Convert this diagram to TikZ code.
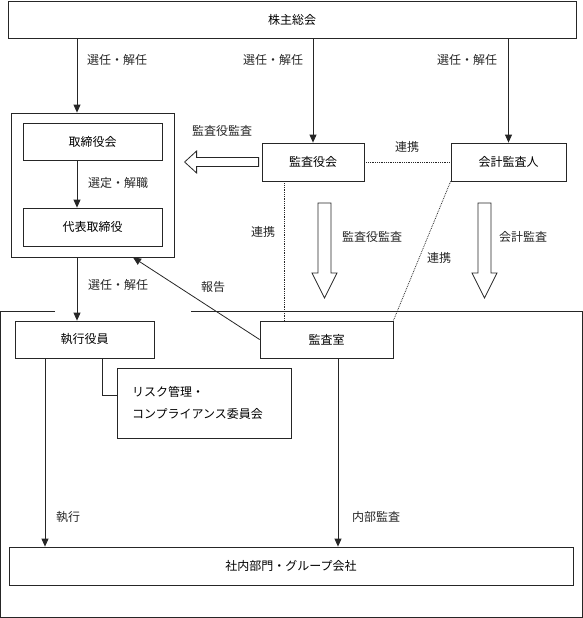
\documentclass[tikz,border=0pt]{standalone}
\usepackage{fontspec}
\setmainfont{Noto Sans CJK JP}
\usetikzlibrary{arrows.meta}

\begin{document}
\begin{tikzpicture}[x=1pt, y=-1pt,
		box/.style={draw=black!85, line width=0.8pt, inner sep=0pt, font=\fontsize{12}{14}\selectfont},
		lbl/.style={inner sep=0pt, font=\fontsize{12}{14}\selectfont, text=black!85},
		arr/.style={draw=black!85, line width=0.8pt, -{Triangle[width=7pt,length=8pt]}},
		link/.style={draw=black!85, line width=0.8pt, densely dotted},
		hollow/.style={draw=black!85, line width=0.8pt, fill=white, line join=miter}]
	\useasboundingbox (0,0) rectangle (583,618);
	
	\coordinate (lx) at (77,0);
	\coordinate (dx) at (284,0);
	\coordinate (rx) at (102,0);
	\coordinate (ex) at (45,0);
	\coordinate (ix) at (338,0);
	
	\node[box, minimum width=568pt, minimum height=37pt] (soukai) at (292,19.5) {株主総会};
	\node[box, minimum width=163pt, minimum height=144pt] (board) at (92.5,185) {};
	\node[box, minimum width=139pt, minimum height=37pt] (torishimari) at (92.5,141.5) {取締役会};
	\node[box, minimum width=139pt, minimum height=38pt] (daihyo) at (92.5,227) {代表取締役};
	\node[box, minimum width=102pt, minimum height=38pt] (kansayaku) at (313,162) {監査役会};
	\node[box, minimum width=115pt, minimum height=38pt] (kaikei) at (508.5,162) {会計監査人};
	\node[box, minimum width=139pt, minimum height=37pt] (shikko) at (84.5,339.5) {執行役員};
	\node[box, minimum width=133pt, minimum height=37pt] (kansashitsu) at (326.5,339.5) {監査室};
	\node[box, minimum height=70pt, text width=144pt, inner xsep=15pt, align=left,
		font=\fontsize{12}{22}\selectfont] (risk) at (204,403) {リスク管理・\\コンプライアンス委員会};
	\node[box, minimum width=564pt, minimum height=38pt] (shanai) at (291,566) {社内部門・グループ会社};
	
	\draw[draw=black!85, line width=0.8pt] (55,311) -- (0.5,311) -- (0.5,617.5) -- (582.5,617.5) -- (582.5,311) -- (191,311);
	
	\draw[arr] (soukai.south -| lx) -- (board.north -| lx);
	\draw[arr] (soukai.south -| kansayaku.north) -- (kansayaku.north);
	\draw[arr] (soukai.south -| kaikei.north) -- (kaikei.north);
	\draw[arr] (torishimari.south -| lx) -- (daihyo.north -| lx);
	\draw[arr] (board.south -| lx) -- (shikko.north -| lx);
	\draw[arr] (kansashitsu.west) -- ([xshift=40.5pt]board.south);
	\draw[arr] (shikko.south -| ex) -- (shanai.north -| ex);
	\draw[arr] (kansashitsu.south -| ix) -- (shanai.north -| ix);
	\draw[draw=black!85, line width=0.8pt] (shikko.south -| rx) |- ([yshift=8pt]risk.west);
	
	\draw[link] (kansayaku.east) -- (kaikei.west);
	\draw[link] (kansayaku.south -| dx) -- (kansashitsu.north -| dx);
	\draw[link] (kaikei.south west) -- (kansashitsu.north east);
	
	\draw[hollow] ([xshift=-3pt]kansayaku.west) -- ++(0,-4.5) -- ++(-62,0) -- ++(0,-6.5)
		-- ++(-12,11) -- ++(12,11) -- ++(0,-6.5) -- ++(62,0) -- cycle;
	\foreach \x in {324.5,484.5} {
		\draw[hollow] (\x-6.5,203) -- (\x+6.5,203) -- (\x+6.5,273) -- (\x+12.5,273)
			-- (\x,298) -- (\x-12.5,273) -- (\x-6.5,273) -- cycle;
	}
	
	\node[lbl] (l1) at (117,60) {選任・解任};
	\node[lbl] (l2) at (273,60) {選任・解任};
	\node[lbl] (l3) at (467,60) {選任・解任};
	\node[lbl] (l4) at (222,131) {監査役監査};
	\node[lbl] (l5) at (407,147) {連携};
	\node[lbl] (l6) at (118,183) {選定・解職};
	\node[lbl] (l7) at (263,232) {連携};
	\node[lbl] (l8) at (372,237) {監査役監査};
	\node[lbl] (l9) at (523,237) {会計監査};
	\node[lbl] (l10) at (439,258) {連携};
	\node[lbl] (l11) at (118,285) {選任・解任};
	\node[lbl] (l12) at (213,287) {報告};
	\node[lbl] (l13) at (68,517) {執行};
	\node[lbl] (l14) at (376,517) {内部監査};
\end{tikzpicture}
\end{document}
